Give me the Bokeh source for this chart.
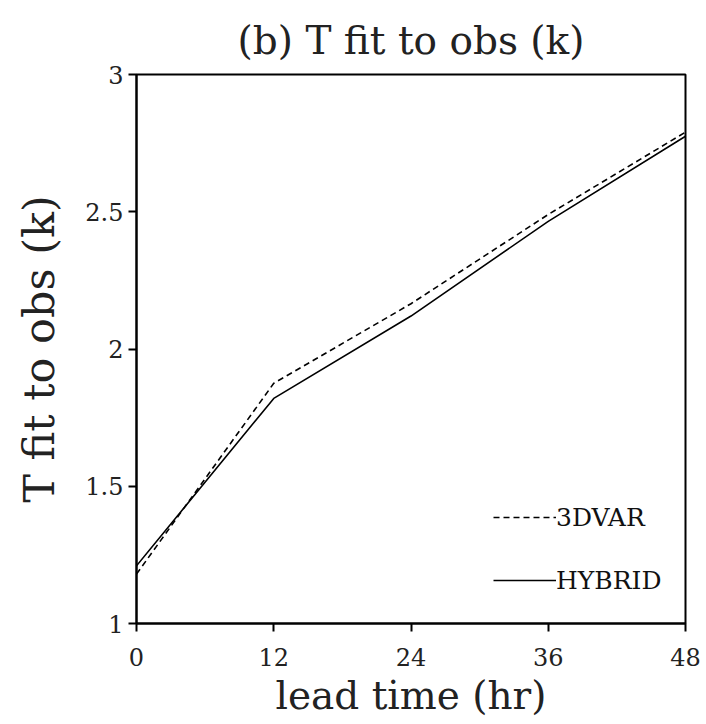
from bokeh.plotting import figure
from bokeh.models import Legend, LegendItem, FixedTicker, Range1d
from bokeh.embed import file_html
from bokeh.resources import INLINE

# Data
lead_time = [0, 12, 24, 36, 48]
t_3dvar = [1.18, 1.875, 2.165, 2.49, 2.79]
t_hybrid = [1.21, 1.82, 2.12, 2.465, 2.775]
x_ticks = [0, 12, 24, 36, 48]
y_ticks = [1, 1.5, 2, 2.5, 3]
y_tick_labels = ["1", "1.5", "2", "2.5", "3"]

FONT = "DejaVu Serif"

p = figure(width=706, height=724, output_backend="svg", toolbar_location=None,
           x_range=Range1d(0, 48), y_range=Range1d(1, 3),
           title="(b) T fit to obs (k)")
p.min_border_left = 136
p.min_border_right = 21
p.min_border_top = 74
p.min_border_bottom = 101

p.title.text_font = FONT
p.title.text_font_size = "39px"
p.title.text_font_style = "normal"
p.title.align = "center"
p.title.text_color = "#222222"
p.title.standoff = 24

p.xgrid.visible = False
p.ygrid.visible = False
p.outline_line_color = "black"
p.outline_line_width = 2
p.background_fill_color = "white"
p.border_fill_color = "white"

for ax in (p.xaxis[0], p.yaxis[0]):
    ax.axis_line_width = 2
    ax.axis_line_color = "black"
    ax.major_tick_line_width = 2
    ax.major_tick_in = 0
    ax.major_tick_out = 8
    ax.minor_tick_line_color = None
    ax.major_label_text_font = FONT
    ax.major_label_text_font_size = "24px"
    ax.major_label_text_color = "#222222"
    ax.axis_label_text_font = FONT
    ax.axis_label_text_font_style = "normal"
    ax.axis_label_text_color = "#222222"

p.xaxis.axis_label_text_font_size = "39px"
p.yaxis.axis_label_text_font_size = "43px"
p.xaxis.ticker = FixedTicker(ticks=x_ticks)
p.yaxis.ticker = FixedTicker(ticks=y_ticks)
p.yaxis.major_label_overrides = {t: l for t, l in zip(y_ticks, y_tick_labels)}
p.yaxis.major_label_orientation = "horizontal"
p.xaxis.axis_label = "lead time (hr)"
p.yaxis.axis_label = "T fit to obs (k)"
p.xaxis.major_label_standoff = 16
p.xaxis.axis_label_standoff = 4
p.yaxis.major_label_standoff = 5
p.yaxis.axis_label_standoff = 18

r1 = p.line(lead_time, t_3dvar, line_color="black", line_width=1.6, line_dash="6 4")
r2 = p.line(lead_time, t_hybrid, line_color="black", line_width=1.6)

legend = Legend(items=[LegendItem(label="3DVAR", renderers=[r1]),
                       LegendItem(label="HYBRID", renderers=[r2])],
                location=(357, 28))
legend.glyph_width = 63
legend.glyph_height = 30
legend.label_height = 30
legend.label_standoff = 0
legend.spacing = 33
legend.padding = 0
legend.margin = 0
legend.border_line_color = None
legend.background_fill_alpha = 0
legend.label_text_font = FONT
legend.label_text_font_size = "25px"
legend.label_text_color = "#111111"
p.add_layout(legend, "center")

open("out.html", "w").write(file_html(p, INLINE))
